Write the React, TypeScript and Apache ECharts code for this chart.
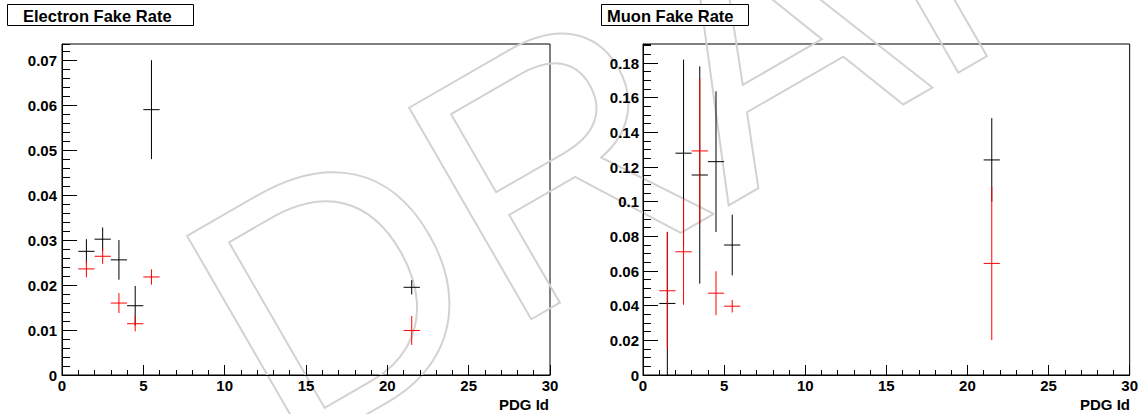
import React, { useEffect, useRef } from 'react';
import * as echarts from 'echarts';

// PDG Id bin centres
const pdgBins = [1.5, 2.5, 3.5, 4.5, 5.5, 21.5];
const binHalfWidth = 0.5;

// Electron fake rate
const electronBlack = [0.0275, 0.0302, 0.0256, 0.0154, 0.059, 0.0195];
const electronBlackErr = [0.0027, 0.0026, 0.0044, 0.0044, 0.011, 0.0016];
const electronRed = [0.0236, 0.0264, 0.016, 0.0114, 0.0218, 0.0099];
const electronRedErr = [0.0019, 0.0017, 0.0022, 0.0017, 0.0017, 0.0032];

// Muon fake rate
const muonBlack = [0.0413, 0.128, 0.1154, 0.1231, 0.075, 0.1241];
const muonBlackErr = [0.0413, 0.054, 0.0627, 0.0406, 0.0175, 0.0241];
const muonRed = [0.0486, 0.0711, 0.1293, 0.0472, 0.0397, 0.0644];
const muonRedErr = [0.0337, 0.0306, 0.042, 0.0127, 0.0036, 0.0443];

const titles = ['Electron Fake Rate', 'Muon Fake Rate'];
const xAxisTitle = 'PDG Id';
const watermarkText = 'DRAFT';

const FONT = '"Liberation Sans", Arial, Helvetica, sans-serif';
const BLACK = '#000000';
const RED = '#ff0000';

function build(bv: number[], be: number[], rv: number[], re: number[]) {
  return pdgBins.map((x, i) => [x, bv[i], be[i], rv[i], re[i]]);
}

function crossEls(api: any, x: number, y: number, e: number, color: string, z2: number) {
  const l = api.coord([x - binHalfWidth, y]);
  const r = api.coord([x + binHalfWidth, y]);
  const t = api.coord([x, y + e]);
  const b = api.coord([x, Math.max(0, y - e)]);
  return [
    { type: 'line', z2, shape: { x1: l[0], y1: l[1], x2: r[0], y2: r[1] }, style: { stroke: color, lineWidth: 1 } },
    { type: 'line', z2, shape: { x1: t[0], y1: t[1], x2: b[0], y2: b[1] }, style: { stroke: color, lineWidth: 1 } },
  ];
}

function errSeries(name: string, data: number[][], gi: number, yi: number) {
  return {
    type: 'custom',
    name,
    xAxisIndex: gi,
    yAxisIndex: yi,
    clip: false,
    silent: true,
    z: 3,
    emphasis: { disabled: true },
    data,
    renderItem: (params: any, api: any) => {
      const x = api.value(0);
      return {
        type: 'group',
        children: [
          ...crossEls(api, x, api.value(1), api.value(2), BLACK, 1),
          ...crossEls(api, x, api.value(3), api.value(4), RED, 10),
        ],
      };
    },
  };
}

export default function App() {
  const ref = useRef<HTMLDivElement>(null);
  useEffect(() => {
    if (!ref.current) return;
    const chart = echarts.init(ref.current, null, { renderer: 'svg' });
    const grids = [
      { left: 62, top: 44, width: 488, height: 331 },
      { left: 643, top: 44, width: 488, height: 331 },
    ];
    const yCfg = [
      { max: 0.0736, major: 0.01, minor: 0.002, margin: 5 },
      { max: 0.191, major: 0.02, minor: 0.005, margin: 4 },
    ];
    const labelStyle = { color: '#000', fontFamily: FONT, fontWeight: 'bold', fontSize: 15 };
    const xAxes = grids.map((_, i) => ({
      type: 'value',
      gridIndex: i,
      min: 0,
      max: 30,
      interval: 5,
      axisLine: { show: true, lineStyle: { color: '#000', width: 1 } },
      axisTick: { show: true, inside: true, length: 10, lineStyle: { color: '#000' } },
      minorTick: { show: true, splitNumber: 5, length: 5, lineStyle: { color: '#000' } },
      splitLine: { show: false },
      minorSplitLine: { show: false },
      axisLabel: { ...labelStyle, margin: 3 },
    }));
    const yAxes: any[] = [];
    yCfg.forEach((c, i) => {
      yAxes.push({
        type: 'value',
        gridIndex: i,
        min: 0,
        max: c.max,
        interval: c.major,
        position: 'left',
        axisLine: { show: true, onZero: false, lineStyle: { color: '#000', width: 1 } },
        axisTick: { show: true, inside: true, length: 15, lineStyle: { color: '#000' } },
        splitLine: { show: false },
        axisLabel: { ...labelStyle, margin: c.margin, showMaxLabel: false },
      });
      yAxes.push({
        type: 'value',
        gridIndex: i,
        min: 0,
        max: c.max,
        interval: c.minor,
        position: 'left',
        axisLine: { show: false },
        axisTick: { show: true, inside: true, length: 8, lineStyle: { color: '#000' } },
        splitLine: { show: false },
        axisLabel: { show: false },
      });
    });

    const boxes = [
      { x: 7.5, y: 4.5, w: 186, h: 21, tx: 23 },
      { x: 601.5, y: 4.5, w: 147, h: 21, tx: 607 },
    ];

    const graphic: any[] = [
      {
        type: 'group',
        x: 284,
        y: 462,
        rotation: Math.PI / 6,
        z: 0,
        silent: true,
        children: [
          {
            type: 'text',
            x: 0,
            y: -123,
            style: {
              text: watermarkText,
              fontSize: 355,
              fontFamily: FONT,
              fontWeight: 'normal',
              fill: 'none',
              stroke: '#d2d2d2',
              lineWidth: 2,
              align: 'left',
              verticalAlign: 'middle',
            },
          },
        ],
      },
    ];
    boxes.forEach((b, i) => {
      graphic.push({
        type: 'rect',
        z: 100,
        shape: { x: b.x, y: b.y, width: b.w, height: b.h },
        style: { fill: '#fff', stroke: '#000', lineWidth: 1 },
      });
      graphic.push({
        type: 'text',
        z: 101,
        x: b.tx,
        y: 15.5,
        style: {
          text: titles[i],
          fontFamily: FONT,
          fontWeight: 'bold',
          fontSize: 16.5,
          fill: '#000',
          align: 'left',
          verticalAlign: 'middle',
        },
      });
    });
    grids.forEach((g) => {
      graphic.push({
        type: 'text',
        z: 101,
        x: g.left + g.width - 1,
        y: 404,
        style: {
          text: xAxisTitle,
          fontFamily: FONT,
          fontWeight: 'bold',
          fontSize: 15,
          fill: '#000',
          align: 'right',
          verticalAlign: 'middle',
        },
      });
    });

    chart.setOption({
      animation: false,
      backgroundColor: '#fff',
      grid: grids.map((g) => ({ ...g, show: true, borderColor: '#000', borderWidth: 1, backgroundColor: 'transparent', containLabel: false })),
      xAxis: xAxes,
      yAxis: yAxes,
      series: [
        errSeries('Electron fake rate', build(electronBlack, electronBlackErr, electronRed, electronRedErr), 0, 0),
        errSeries('Muon fake rate', build(muonBlack, muonBlackErr, muonRed, muonRedErr), 1, 2),
      ],
      graphic,
    });
    return () => chart.dispose();
  }, []);
  return <div ref={ref} style={{ position: 'absolute', left: 0, top: 0, width: 1141, height: 414 }} />;
}
